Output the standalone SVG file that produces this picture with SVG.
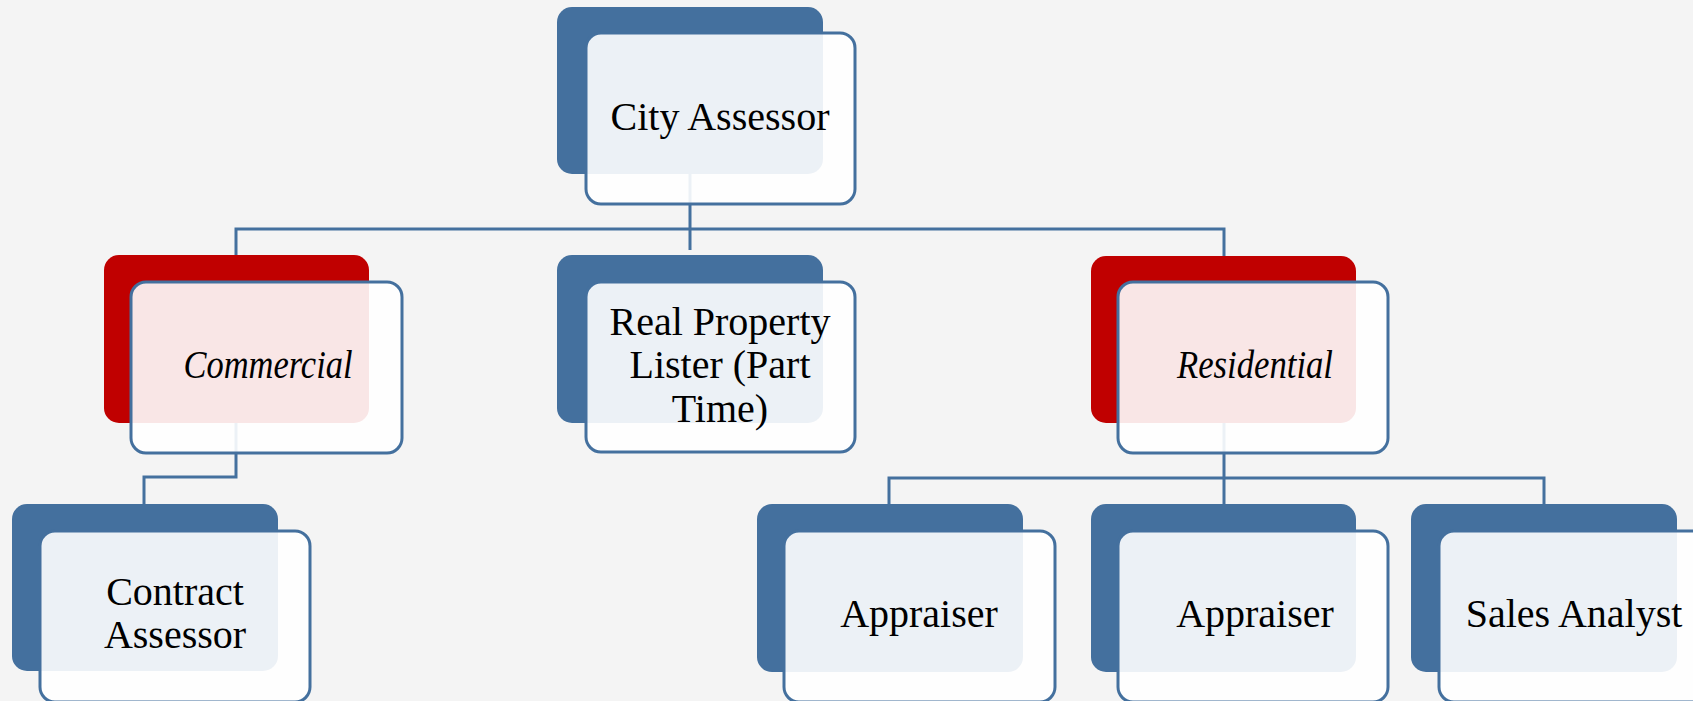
<svg xmlns="http://www.w3.org/2000/svg" width="1693" height="701" viewBox="0 0 1693 701">
<style>
.bg{fill:#f4f4f4}
.conn{fill:none;stroke:#44709e;stroke-width:3}
.back{fill:#44709e}
.backr{fill:#c00000}
.front{fill:#ffffff;fill-opacity:0.9;stroke:#44709e;stroke-width:3}
.t{font-family:"Liberation Serif","Times New Roman",serif;font-size:40px;fill:#000;text-anchor:middle}
.ti{font-style:italic}
</style>
<rect class="bg" x="0" y="0" width="1693" height="701"/>
<g id="connectors">
<path class="conn" d="M690 174 V250"/>
<path class="conn" d="M236 256 V229 H1224 V256"/>
<path class="conn" d="M236 423 V477 H144 V504"/>
<path class="conn" d="M1224 423 V504"/>
<path class="conn" d="M889 504 V478 H1544 V504"/>
</g>
<g id="city-assessor">
<rect class="back" x="557" y="7" width="266" height="167" rx="15"/>
<rect class="front" x="586" y="33" width="269" height="171" rx="15"/>
<text class="t" x="720" y="130">City Assessor</text>
</g>
<g id="commercial">
<rect class="backr" x="104" y="255" width="265" height="168" rx="15"/>
<rect class="front" x="131" y="282" width="271" height="171" rx="15"/>
<text class="t ti" x="268" y="378" textLength="169" lengthAdjust="spacingAndGlyphs">Commercial</text>
</g>
<g id="real-property-lister">
<rect class="back" x="557" y="255" width="266" height="168" rx="15"/>
<rect class="front" x="586" y="282" width="269" height="170" rx="15"/>
<text class="t" x="720" y="335">Real Property</text>
<text class="t" x="720" y="378">Lister (Part</text>
<text class="t" x="720" y="422">Time)</text>
</g>
<g id="residential">
<rect class="backr" x="1091" y="256" width="265" height="167" rx="15"/>
<rect class="front" x="1118" y="282" width="270" height="171" rx="15"/>
<text class="t ti" x="1255" y="378" textLength="156" lengthAdjust="spacingAndGlyphs">Residential</text>
</g>
<g id="contract-assessor">
<rect class="back" x="12" y="504" width="266" height="167" rx="15"/>
<rect class="front" x="40" y="531" width="270" height="171" rx="15"/>
<text class="t" x="175" y="605">Contract</text>
<text class="t" x="175" y="648">Assessor</text>
</g>
<g id="appraiser-1">
<rect class="back" x="757" y="504" width="266" height="168" rx="15"/>
<rect class="front" x="784" y="531" width="271" height="171" rx="15"/>
<text class="t" x="919" y="627">Appraiser</text>
</g>
<g id="appraiser-2">
<rect class="back" x="1091" y="504" width="265" height="168" rx="15"/>
<rect class="front" x="1118" y="531" width="270" height="171" rx="15"/>
<text class="t" x="1255" y="627">Appraiser</text>
</g>
<g id="sales-analyst">
<rect class="back" x="1411" y="504" width="266" height="168" rx="15"/>
<rect class="front" x="1439" y="531" width="270" height="171" rx="15"/>
<text class="t" x="1574" y="627">Sales Analyst</text>
</g>
</svg>
